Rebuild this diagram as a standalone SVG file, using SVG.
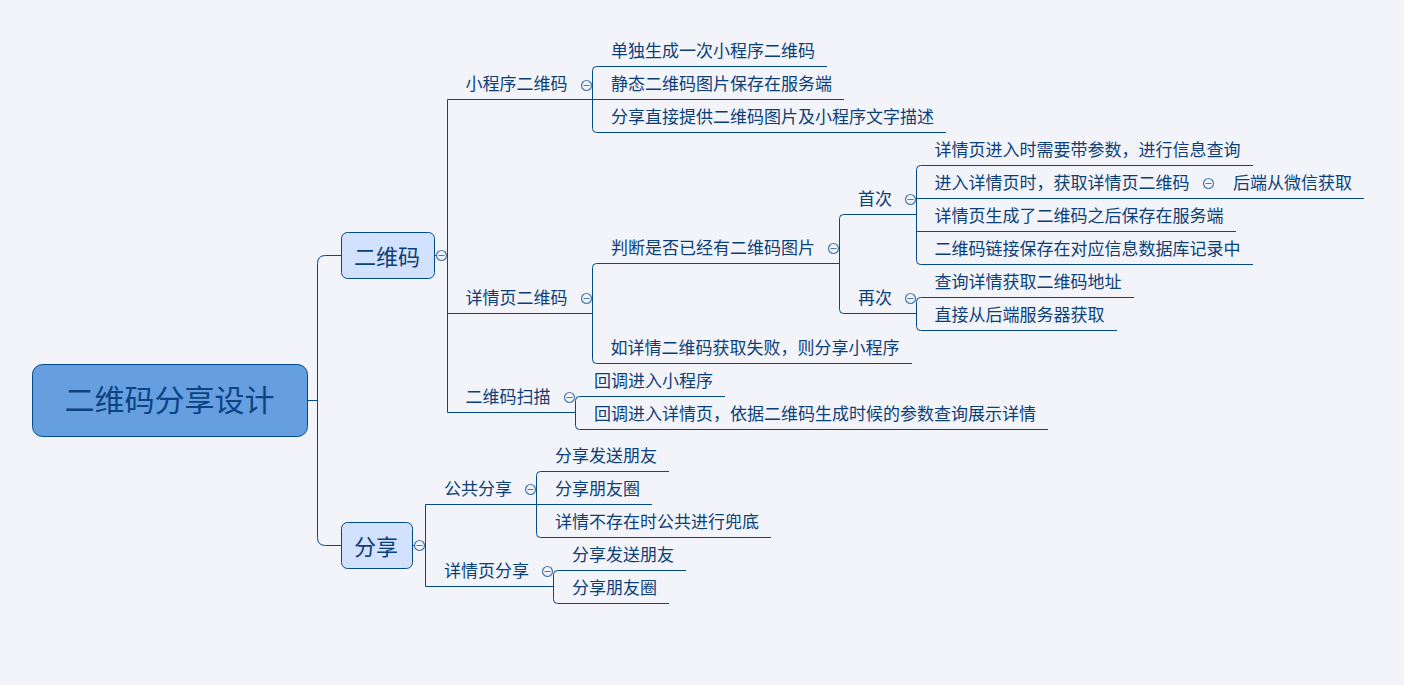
<svg xmlns="http://www.w3.org/2000/svg" width="1404" height="685" viewBox="0 0 1404 685">
<style>
text{font-family:"Noto Sans CJK SC","Liberation Sans",sans-serif;fill:#0c3f78}
.t{font-size:17px}
.m{font-size:22px;text-anchor:middle}
.r{font-size:30px;text-anchor:middle;fill:#0b4383}
.c path{fill:none;stroke:#004a8c;stroke-width:1}
.n{stroke:#004a8c;stroke-width:1}
.tc{fill:#f3f4fa;stroke:#4a78ab;stroke-width:1.2}
.tm{stroke:#4a78ab;stroke-width:1;fill:none}
</style>
<defs><g id="tog"><circle class="tc" r="5"/><path class="tm" d="M-3 0H3"/></g></defs>
<rect width="1404" height="685" fill="#f3f4fa"/>
<g id="connectors" class="c">
<path d="M308 400.5H317.5"/>
<path d="M341 255.5H325.5Q317.5 255.5 317.5 263.5V537.5Q317.5 545.5 325.5 545.5H341"/>
<path d="M435 255.5H447.5"/>
<path d="M592.5 99.5H447.5V412.5H575.5"/>
<path d="M447.5 313.5H592.5"/>
<path d="M827 66.5H596.5Q592.5 66.5 592.5 70.5V128.5Q592.5 132.5 596.5 132.5H946"/>
<path d="M592.5 99.5H844"/>
<path d="M839.5 263.5H596.5Q592.5 263.5 592.5 267.5V359.5Q592.5 363.5 596.5 363.5H912"/>
<path d="M917 214.5H843.5Q839.5 214.5 839.5 218.5V309.5Q839.5 313.5 843.5 313.5H917"/>
<path d="M1253 165.5H920.5Q916.5 165.5 916.5 169.5V260.5Q916.5 264.5 920.5 264.5H1253"/>
<path d="M916.5 198.5H1364"/>
<path d="M916.5 231.5H1236"/>
<path d="M1134 297.5H920.5Q916.5 297.5 916.5 301.5V326.5Q916.5 330.5 920.5 330.5H1117"/>
<path d="M725 396.5H579.5Q575.5 396.5 575.5 400.5V425.5Q575.5 429.5 579.5 429.5H1048"/>
<path d="M413 545.5H425.5"/>
<path d="M536.5 504.5H425.5V586.5H553.5"/>
<path d="M669 471.5H540.5Q536.5 471.5 536.5 475.5V533.5Q536.5 537.5 540.5 537.5H771"/>
<path d="M536.5 504.5H652"/>
<path d="M686 570.5H557.5Q553.5 570.5 553.5 574.5V599.5Q553.5 603.5 557.5 603.5H669"/>
</g>
<g id="root"><rect class="n" x="32.5" y="364.5" width="275" height="72" rx="10" fill="#659fdf"/><text class="r" x="169.5" y="411">二维码分享设计</text></g>
<g id="n-qr"><rect class="n" x="341.5" y="232.5" width="93" height="46" rx="6" fill="#d2e1fd"/><text class="m" x="387" y="265">二维码</text></g>
<g id="n-share"><rect class="n" x="341.5" y="522.5" width="71" height="46" rx="6" fill="#d2e1fd"/><text class="m" x="376" y="555">分享</text></g>
<g id="n1"><text class="t" x="465.5" y="90">小程序二维码</text></g>
<g id="n2"><text class="t" x="611" y="57">单独生成一次小程序二维码</text></g>
<g id="n3"><text class="t" x="611" y="90">静态二维码图片保存在服务端</text></g>
<g id="n4"><text class="t" x="611" y="123">分享直接提供二维码图片及小程序文字描述</text></g>
<g id="n5"><text class="t" x="465.5" y="304">详情页二维码</text></g>
<g id="n6"><text class="t" x="611" y="254">判断是否已经有二维码图片</text></g>
<g id="n7"><text class="t" x="610.5" y="354">如详情二维码获取失败，则分享小程序</text></g>
<g id="n8"><text class="t" x="858" y="205">首次</text></g>
<g id="n9"><text class="t" x="858" y="304">再次</text></g>
<g id="n10"><text class="t" x="934.5" y="156">详情页进入时需要带参数，进行信息查询</text></g>
<g id="n11"><text class="t" x="934.5" y="189">进入详情页时，获取详情页二维码</text></g>
<g id="n12"><text class="t" x="1233" y="189">后端从微信获取</text></g>
<g id="n13"><text class="t" x="934.5" y="222">详情页生成了二维码之后保存在服务端</text></g>
<g id="n14"><text class="t" x="934.5" y="255">二维码链接保存在对应信息数据库记录中</text></g>
<g id="n15"><text class="t" x="934.5" y="288">查询详情获取二维码地址</text></g>
<g id="n16"><text class="t" x="934.5" y="321">直接从后端服务器获取</text></g>
<g id="n17"><text class="t" x="465.5" y="403">二维码扫描</text></g>
<g id="n18"><text class="t" x="594" y="387">回调进入小程序</text></g>
<g id="n19"><text class="t" x="594" y="420">回调进入详情页，依据二维码生成时候的参数查询展示详情</text></g>
<g id="n20"><text class="t" x="444" y="495">公共分享</text></g>
<g id="n21"><text class="t" x="555" y="462">分享发送朋友</text></g>
<g id="n22"><text class="t" x="555" y="495">分享朋友圈</text></g>
<g id="n23"><text class="t" x="555" y="528">详情不存在时公共进行兜底</text></g>
<g id="n24"><text class="t" x="444" y="577">详情页分享</text></g>
<g id="n25"><text class="t" x="572" y="561">分享发送朋友</text></g>
<g id="n26"><text class="t" x="572" y="594">分享朋友圈</text></g>
<g id="toggles">
<use href="#tog" x="441.5" y="255.5"/>
<use href="#tog" x="419.5" y="545.5"/>
<use href="#tog" x="586.5" y="85.5"/>
<use href="#tog" x="586.5" y="298.5"/>
<use href="#tog" x="569.5" y="397.5"/>
<use href="#tog" x="833.5" y="248.5"/>
<use href="#tog" x="910.5" y="199.5"/>
<use href="#tog" x="910.5" y="298.5"/>
<use href="#tog" x="1208.5" y="183.5"/>
<use href="#tog" x="530.5" y="489.5"/>
<use href="#tog" x="547.5" y="571.5"/>
</g>
</svg>
